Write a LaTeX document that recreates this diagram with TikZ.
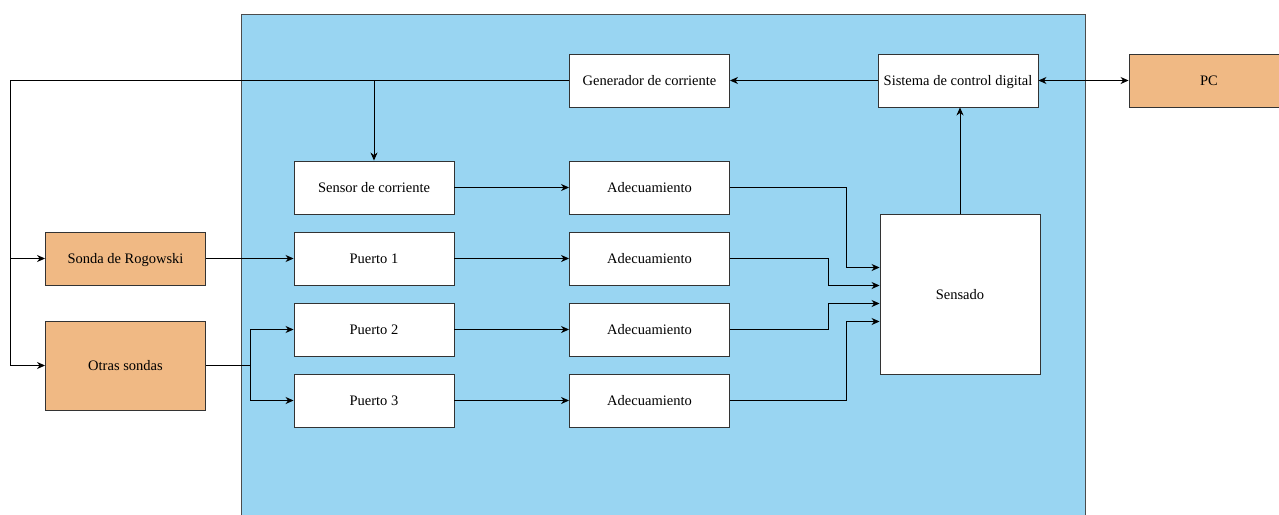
\documentclass[tikz,border=0pt]{standalone}
\usepackage{fontspec}
\setmainfont{Liberation Serif}
\usetikzlibrary{arrows.meta}
\definecolor{bluebg}{RGB}{153,213,242}
\definecolor{probe}{RGB}{240,185,132}
\begin{document}
\begin{tikzpicture}[x=1pt,y=-1pt,
  box/.style={draw=black!80, fill=white, minimum width=160pt, minimum height=53pt, inner sep=0pt, line width=0.9pt, font=\fontsize{14.5}{17}\selectfont, text height=10pt, text depth=1pt},
  probebox/.style={box, fill=probe},
  wire/.style={draw=black, line width=0.9pt},
  arr/.style={wire, -{Stealth[length=8pt,width=7pt,inset=2.5pt]}},
  darr/.style={wire, {Stealth[length=8pt,width=7pt,inset=2.5pt]}-{Stealth[length=8pt,width=7pt,inset=2.5pt]}}]
\useasboundingbox (0,0) rectangle (1279,514);
\path[fill=bluebg, draw=black!70, line width=0.9pt] (241,14) rectangle (1085,530);

\node[box] (gen) at (649.5,80.5) {Generador de corriente};
\node[box] (sis) at (958,80.5) {Sistema de control digital};
\node[probebox] (pc) at (1209,80.5) {PC};
\node[box] (sen) at (374,187.5) {Sensor de corriente};
\node[box] (p1) at (374,258.5) {Puerto 1};
\node[box] (p2) at (374,329.5) {Puerto 2};
\node[box] (p3) at (374,400.5) {Puerto 3};
\node[box] (a1) at (649.5,187.5) {Adecuamiento};
\node[box] (a2) at (649.5,258.5) {Adecuamiento};
\node[box] (a3) at (649.5,329.5) {Adecuamiento};
\node[box] (a4) at (649.5,400.5) {Adecuamiento};
\node[box, minimum height=160pt] (sensado) at (960,294.5) {Sensado};
\node[probebox] (rog) at (125.5,258.5) {Sonda de Rogowski};
\node[probebox, minimum height=89pt] (otras) at (125.5,365.5) {Otras sondas};

\coordinate (L) at (10,80.5);
\coordinate (S) at (250,365.5);

\draw[wire] (gen.west) -- (L);
\draw[arr] (L) |- (rog.west);
\draw[arr] (L) |- (otras.west);
\draw[arr] (sen.north |- gen.west) -- (sen.north);
\draw[arr] (sis.west) -- (gen.east);
\draw[darr] (sis.east) -- (pc.west);
\draw[arr] (sensado.north) -- (sensado.north |- sis.south);
\draw[arr] (sen.east) -- (a1.west);
\draw[arr] (rog.east) -- (p1.west);
\draw[wire] (otras.east) -- (S);
\draw[arr] (S) |- (p2.west);
\draw[arr] (S) |- (p3.west);
\draw[arr] (p1.east) -- (a2.west);
\draw[arr] (p2.east) -- (a3.west);
\draw[arr] (p3.east) -- (a4.west);
\draw[arr] (a1.east) -- ++(116,0) |- ([yshift=27pt]sensado.west);
\draw[arr] (a2.east) -- ++(98,0) |- ([yshift=9pt]sensado.west);
\draw[arr] (a3.east) -- ++(98,0) |- ([yshift=-9pt]sensado.west);
\draw[arr] (a4.east) -- ++(116,0) |- ([yshift=-27pt]sensado.west);
\end{tikzpicture}
\end{document}
